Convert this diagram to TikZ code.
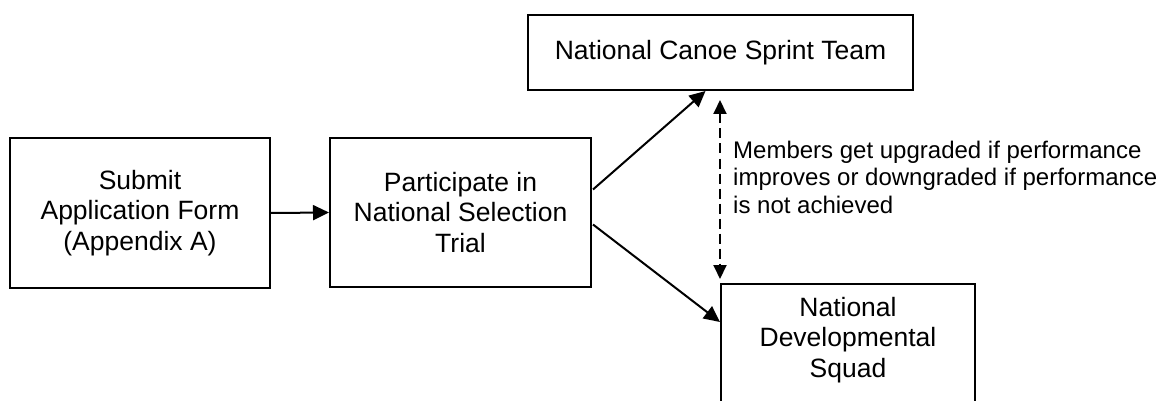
\documentclass[tikz,border=0pt]{standalone}
\usepackage{fontspec}
\setmainfont{Liberation Sans}
\usetikzlibrary{arrows.meta}
\tikzset{
  box/.style={draw=black, line width=2pt, fill=white, inner sep=0pt, align=center,
    font=\fontsize{26.5}{30.5}\selectfont},
  conn/.style={line width=2pt, -{Triangle[length=16pt,width=15pt]}},
  dconn/.style={line width=2pt, dash pattern=on 10pt off 5pt,
    {Triangle[length=14pt,width=13pt]}-{Triangle[length=14pt,width=13pt]}},
  note/.style={inner sep=0pt, align=left, font=\fontsize{24}{27.5}\selectfont}
}
\begin{document}
\begin{tikzpicture}[x=1pt,y=-1pt]
\path[use as bounding box, clip] (0,0) rectangle (1159,401);
\fill[white] (0,0) rectangle (1159,401);
\node[box, minimum width=260pt, minimum height=150pt] (A) at (140,213) {Submit\\Application Form\\(Appendix A)};
\node[box, minimum width=261pt, minimum height=149pt] (B) at (460.5,212.5) {Participate in\\National Selection\\Trial};
\node[box, minimum width=385pt, minimum height=75pt] (C) at (720.5,52.5) {National Canoe Sprint Team};
\node[box, anchor=north west, minimum width=254pt, minimum height=160pt] (D) at (720,283) {};
\node[inner sep=0pt, align=center, anchor=north, font=\fontsize{26.5}{30.5}\selectfont] (Dt) at ([yshift=-14pt]D.north) {National\\Developmental\\Squad};
\node[note, anchor=west] (N) at (733,177) {Members get upgraded if performance\\improves or downgraded if performance\\is not achieved};
\draw[conn] (A.east) -- (B.west);
\draw[conn] ([xshift=1pt,yshift=23pt]B.east) -- ([xshift=-15pt]C.south);
\draw[conn] ([xshift=1pt,yshift=-12pt]B.east) -- ([yshift=-39pt]D.north west);
\draw[dconn] ([yshift=-9pt]C.south -| D.north west) -- ([yshift=4pt]D.north west);
\end{tikzpicture}
\end{document}
